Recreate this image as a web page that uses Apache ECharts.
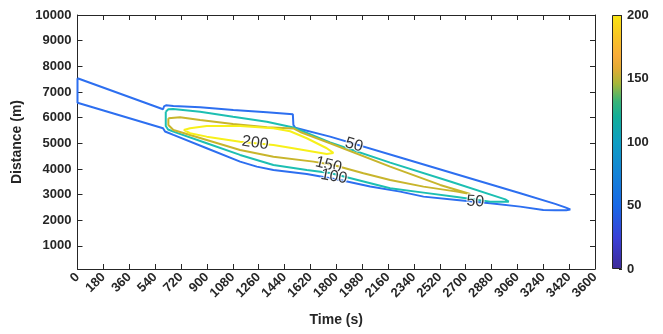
<!DOCTYPE html>
<html>
<head>
<meta charset="utf-8">
<script src="https://cdn.jsdelivr.net/npm/echarts@6/dist/echarts.min.js"></script>
<style>
  html, body { margin: 0; padding: 0; background: #fff; }
  #chart { width: 663px; height: 334px; }
</style>
</head>
<body>
<div id="chart"></div>
<script>
// Contour levels of the field and their line colours
const levels = [50, 100, 150, 200];
const levelColors = ['#2d6ff0', '#1dbfb2', '#c8b52c', '#f7f01a'];

// Contour paths, [time (s), distance (m)]
const contour50 = [
  [0, 7534], [595, 6326], [602, 6435], [616, 6482], [667, 6455], [853, 6404],
  [1084, 6299], [1317, 6209], [1498, 6131], [1502, 5714], [1514, 5609],
  [1757, 5259], [2245, 4448], [3080, 3053], [3323, 2637], [3393, 2500],
  [3428, 2422], [3400, 2391], [3323, 2391], [3240, 2403], [3080, 2531],
  [2871, 2664], [2639, 2792], [2407, 2921], [2245, 3116], [2036, 3318],
  [1827, 3572], [1595, 3805], [1363, 3961], [1247, 4090], [1131, 4285],
  [899, 4807], [667, 5325], [609, 5461], [595, 5586], [0, 6583], [0, 7534]
];
const contour100 = [
  [614, 6233], [632, 6326], [665, 6338], [853, 6233], [1082, 6038],
  [1317, 5843], [1502, 5617], [1757, 5033], [2175, 4246], [2593, 3513],
  [2976, 2812], [3000, 2726], [3000, 2713], [2871, 2726], [2639, 2909],
  [2407, 3077], [2175, 3248], [1757, 3844], [1595, 3961], [1363, 4156],
  [1131, 4546], [899, 5001], [667, 5453], [630, 5539], [614, 5675], [614, 6233]
];
const contour150 = [
  [632, 5975], [644, 6038], [713, 6014], [853, 5909], [1082, 5753],
  [1317, 5625], [1502, 5578], [1549, 5442], [1757, 5001], [2175, 4090],
  [2523, 3377], [2732, 3026], [2639, 3116], [2407, 3311], [2175, 3572],
  [1989, 3833], [1780, 4156], [1641, 4285], [1363, 4479], [1131, 4740],
  [899, 5130], [667, 5520], [632, 5714], [632, 5975]
];
const contour200 = [
  [739, 5520], [783, 5586], [899, 5675], [1131, 5675], [1363, 5586],
  [1479, 5470], [1595, 5196], [1734, 4807], [1780, 4624], [1734, 4585],
  [1479, 4826], [1363, 4935], [1131, 5064], [899, 5259], [783, 5391], [739, 5520]
];
const contours = [contour50, contour100, contour150, contour200];

// Inline contour labels: [time, distance, text]
const contourLabels = [
  [1236, 5013, '200'],
  [1746, 4156, '150'],
  [1784, 3700, '100'],
  [1923, 4935, '50'],
  [2767, 2726, '50']
];
const labelAngles = [-8, -14, -10, -16, -3];

// Axis ticks
const timeTicks = { min: 0, max: 3600, step: 180 };
const distanceTicks = [1000, 2000, 3000, 4000, 5000, 6000, 7000, 8000, 9000, 10000];
const distanceRange = [100, 10000];
const colorbarTicks = { min: 0, max: 200, step: 50 };

const axisColor = '#262626';
const font = '"Liberation Sans", Arial, Helvetica, sans-serif';
const plain = v => String(v);

const chart = echarts.init(document.getElementById('chart'), null, { renderer: 'canvas' });

const contourSeries = contours.map((pts, i) => ({
  type: 'line',
  name: String(levels[i]),
  xAxisIndex: 0,
  yAxisIndex: 0,
  data: pts,
  showSymbol: false,
  symbol: 'none',
  clip: false,
  lineStyle: { color: levelColors[i], width: 2 },
  z: 3,
  silent: true,
  animation: false
}));

const labelSeries = {
  type: 'scatter',
  xAxisIndex: 0,
  yAxisIndex: 0,
  symbolSize: 0,
  z: 5,
  silent: true,
  animation: false,
  data: contourLabels.map((l, i) => ({
    value: [l[0], l[1]],
    label: {
      show: true,
      position: 'inside',
      formatter: l[2],
      rotate: labelAngles[i],
      fontFamily: font,
      fontSize: 16,
      fontWeight: 'normal',
      color: '#000',
      textBorderColor: '#fff',
      textBorderWidth: 2
    }
  }))
};

const colorbarSeries = {
  type: 'bar',
  xAxisIndex: 2,
  yAxisIndex: 2,
  data: [colorbarTicks.max],
  barWidth: 10,
  silent: true,
  animation: false,
  itemStyle: {
    borderColor: axisColor,
    borderWidth: 1,
    color: {
      type: 'linear', x: 0, y: 1, x2: 0, y2: 0,
      colorStops: [
        { offset: 0.00, color: '#3d2a98' },
        { offset: 0.12, color: '#3a3fd6' },
        { offset: 0.25, color: '#1868e6' },
        { offset: 0.38, color: '#1484d6' },
        { offset: 0.50, color: '#0e9ec2' },
        { offset: 0.60, color: '#13ae98' },
        { offset: 0.66, color: '#38b478' },
        { offset: 0.73, color: '#a6b63a' },
        { offset: 0.79, color: '#e2aa34' },
        { offset: 0.84, color: '#f8ac3a' },
        { offset: 0.92, color: '#f8c624' },
        { offset: 1.00, color: '#f9e512' }
      ]
    }
  }
};

const tickLabelStyle = {
  fontFamily: font,
  fontSize: 13,
  fontWeight: 'bold',
  color: axisColor,
  formatter: plain
};

const option = {
  backgroundColor: '#fff',
  animation: false,
  grid: [
    { left: 77.5, right: 68, top: 15, bottom: 65 },
    { left: 612, right: 41, top: 15, bottom: 65 }
  ],
  xAxis: [
    {
      type: 'value', gridIndex: 0, position: 'bottom',
      min: timeTicks.min, max: timeTicks.max, interval: timeTicks.step,
      splitLine: { show: false },
      axisLine: { show: true, onZero: false, lineStyle: { color: axisColor, width: 1 } },
      axisTick: { show: true, inside: true, length: 5, lineStyle: { color: axisColor } },
      axisLabel: Object.assign({ rotate: 45, margin: 6 }, tickLabelStyle),
      name: 'Time (s)', nameLocation: 'middle', nameGap: 44,
      nameTextStyle: { fontFamily: font, fontSize: 14, fontWeight: 'bold', color: axisColor }
    },
    {
      type: 'value', gridIndex: 0, position: 'top',
      min: timeTicks.min, max: timeTicks.max, interval: timeTicks.step,
      splitLine: { show: false },
      axisLine: { show: true, onZero: false, lineStyle: { color: axisColor, width: 1 } },
      axisTick: { show: true, inside: true, length: 5, lineStyle: { color: axisColor } },
      axisLabel: { show: false }
    },
    {
      type: 'category', gridIndex: 1, data: ['c'], boundaryGap: true,
      axisLine: { show: false }, axisTick: { show: false }, axisLabel: { show: false }
    }
  ],
  yAxis: [
    {
      type: 'value', gridIndex: 0, position: 'left',
      min: distanceRange[0], max: distanceRange[1],
      splitLine: { show: false },
      axisLine: { show: true, onZero: false, lineStyle: { color: axisColor, width: 1 } },
      axisTick: { show: true, inside: true, length: 5, customValues: distanceTicks, lineStyle: { color: axisColor } },
      axisLabel: Object.assign({ margin: 6, customValues: distanceTicks }, tickLabelStyle),
      name: 'Distance (m)', nameLocation: 'middle', nameGap: 47,
      nameTextStyle: { fontFamily: font, fontSize: 14, fontWeight: 'bold', color: axisColor }
    },
    {
      type: 'value', gridIndex: 0, position: 'right',
      min: distanceRange[0], max: distanceRange[1],
      splitLine: { show: false },
      axisLine: { show: true, onZero: false, lineStyle: { color: axisColor, width: 1 } },
      axisTick: { show: true, inside: true, length: 5, customValues: distanceTicks, lineStyle: { color: axisColor } },
      axisLabel: { show: false }
    },
    {
      type: 'value', gridIndex: 1, position: 'right',
      min: colorbarTicks.min, max: colorbarTicks.max, interval: colorbarTicks.step,
      splitLine: { show: false },
      axisLine: { show: false },
      axisTick: { show: true, inside: true, length: 3, lineStyle: { color: axisColor } },
      axisLabel: Object.assign({ margin: 5 }, tickLabelStyle)
    }
  ],
  series: contourSeries.concat([labelSeries, colorbarSeries])
};

chart.setOption(option);
</script>
</body>
</html>
